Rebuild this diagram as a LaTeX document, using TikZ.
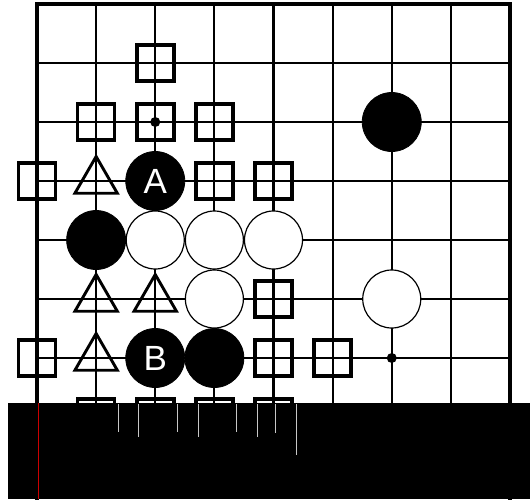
\documentclass[tikz,border=0pt]{standalone}
\usepackage{fontspec}
\setsansfont{Liberation Sans}
\usetikzlibrary{shapes.geometric}
\begin{document}
\begin{tikzpicture}[x=1pt,y=-1pt,
  gridline/.style={line width=2.1pt,black},
  border/.style={line width=4.5pt,black,line cap=rect},
  bstone/.style={circle,fill=black,draw=black,line width=0.8pt,minimum size=59pt,inner sep=0pt,text=white,font=\sffamily\fontsize{35}{35}\selectfont},
  wstone/.style={circle,fill=white,draw=black,line width=1.2pt,minimum size=58pt,inner sep=0pt},
  sqmark/.style={rectangle,draw=black,line width=3.6pt,minimum width=37pt,minimum height=36pt,inner sep=0pt},
  trimark/.style={regular polygon,regular polygon sides=3,draw=black,line width=2.9pt,minimum size=49pt,inner sep=0pt},
  hoshi/.style={circle,fill=black,minimum size=10pt,inner sep=0pt},
  glitch/.style={line width=1pt,color=black!22}]
\useasboundingbox (0,0) rectangle (530,499);
\fill[white] (0,0) rectangle (530,499);
\foreach \c in {0,...,8}{\foreach \r in {0,...,7}{\coordinate (p\c-\r) at ({37+59.125*\c},{4+59*\r});}}
% grid
\foreach \c in {1,...,7}{\draw[gridline] (p\c-0) -- ++(0,495);}
\foreach \r in {1,...,7}{\draw[gridline] (p0-\r) -- (p8-\r);}
\draw[border] ([yshift=-495pt]p0-0) -- (p0-0) -- (p8-0) -- ([yshift=-495pt]p8-0);
% hoshi
\node[hoshi] (h1) at (p2-2) {};
\node[hoshi] (h2) at (p6-6) {};
% stones
\node[bstone] (b1) at (p6-2) {};
\node[bstone] (A) at (p2-3) {A};
\node[bstone] (b2) at (p1-4) {};
\node[wstone] (w1) at (p2-4) {};
\node[wstone] (w2) at (p3-4) {};
\node[wstone] (w3) at (p4-4) {};
\node[wstone] (w4) at (p3-5) {};
\node[wstone] (w5) at (p6-5) {};
\node[bstone] (B) at (p2-6) {B};
\node[bstone] (b3) at (p3-6) {};
% squares
\node[sqmark] (s1) at (p2-1) {};
\node[sqmark] (s2) at (p1-2) {};
\node[sqmark] (s3) at (p2-2) {};
\node[sqmark] (s4) at (p3-2) {};
\node[sqmark] (s5) at (p0-3) {};
\node[sqmark] (s6) at (p3-3) {};
\node[sqmark] (s7) at (p4-3) {};
\node[sqmark] (s8) at (p4-5) {};
\node[sqmark] (s9) at (p0-6) {};
\node[sqmark] (s10) at (p4-6) {};
\node[sqmark] (s11) at (p5-6) {};
\node[sqmark] (s12) at (p1-7) {};
\node[sqmark] (s13) at (p2-7) {};
\node[sqmark] (s14) at (p3-7) {};
\node[sqmark] (s15) at (p4-7) {};
% triangles
\node[trimark] (t1) at (p1-3) {};
\node[trimark] (t2) at (p1-5) {};
\node[trimark] (t3) at (p2-5) {};
\node[trimark] (t4) at (p1-6) {};
% black band
\fill[black] (8,403) rectangle (530,499);
\draw[red!80!black,line width=0.8pt] (38,403) -- (38,499);
\foreach \x/\y in {118/432,138/437,177/432,198/437,236/432,257/437,275/433,296/455}{\draw[glitch] (\x,404) -- (\x,\y);}
\end{tikzpicture}
\end{document}
